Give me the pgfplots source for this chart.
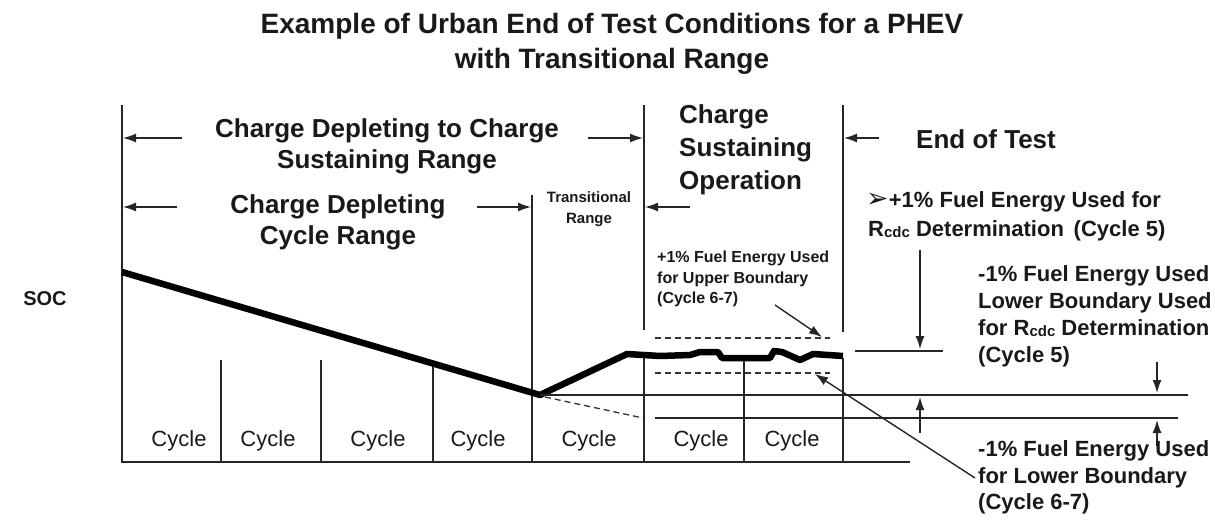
\documentclass[border=0pt]{standalone}
\usepackage{fontspec}
\setmainfont{Liberation Sans}
\newfontfamily\sym{DejaVu Sans}
\usepackage{pgfplots}
\pgfplotsset{compat=1.18}
\usetikzlibrary{arrows.meta}
\newcommand{\Rcdc}{R\raisebox{-1.5pt}{\fontsize{15}{15}\selectfont cdc}}
\tikzset{
  ln/.style={black!85, line width=1.4pt},
  arr/.style={ln, -{Latex[length=13pt,width=9pt]}},
  dsh/.style={black!80, line width=1.3pt, dash pattern=on 6pt off 4pt},
  t/.style={inner sep=0pt, text=black!90},
}
\begin{document}
\begin{tikzpicture}
\begin{axis}[width=1215pt,height=524pt,scale only axis,
  xmin=0,xmax=1215,ymin=0,ymax=524,y dir=reverse,
  hide axis,clip=false]
\addplot[draw=none] coordinates {(0,0) (1215,524)};
% frame
\addplot[ln] coordinates {(122,105) (122,462) (910,462)};
\addplot[ln] coordinates {(532,195) (532,462)};
\addplot[ln] coordinates {(644,105) (644,330)};
\addplot[ln] coordinates {(644,353) (644,462)};
\addplot[ln] coordinates {(843,105) (843,332)};
\addplot[ln] coordinates {(843,358) (843,462)};
\addplot[ln] coordinates {(221,360) (221,462)};
\addplot[ln] coordinates {(321,360) (321,462)};
\addplot[ln] coordinates {(433,366) (433,462)};
\addplot[ln] coordinates {(744,359) (744,462)};
% header arrows
\addplot[arr] coordinates {(182,138) (123,138)};
\addplot[arr] coordinates {(588,138) (643,138)};
\addplot[arr] coordinates {(177,207) (123,207)};
\addplot[arr] coordinates {(477,207) (531,207)};
\addplot[arr] coordinates {(690,207) (645,207)};
\addplot[arr] coordinates {(879,138) (844,138)};
% SOC trace
\addplot[black, line width=6.5pt, line join=round] coordinates {
(122,272) (540,395) (627,354) (660,356) (690,355) (700,352) (718,352)
(722,358) (770,358) (774,351) (782,352) (800,360) (813,354) (843,356)};
% dashed
\addplot[dsh] coordinates {(545,397) (643,418)};
\addplot[dsh] coordinates {(655,338) (830,338)};
\addplot[dsh] coordinates {(655,373) (830,373)};
% boundary lines
\addplot[ln] coordinates {(540,395) (1188,395)};
\addplot[ln] coordinates {(655,418) (1178,418)};
\addplot[ln] coordinates {(855,351) (943,351)};
\addplot[arr] coordinates {(920,250) (920,349)};
\addplot[arr] coordinates {(920,433) (920,397)};
\addplot[arr] coordinates {(1157,362) (1157,393)};
\addplot[arr] coordinates {(1157,446) (1157,420)};
\addplot[arr] coordinates {(775,305) (822,337)};
\addplot[arr] coordinates {(975,478) (815,374)};
% title
\node[t,anchor=base,font=\fontsize{28}{28}\bfseries] at (axis cs:612,34) {Example of Urban End of Test Conditions for a PHEV};
\node[t,anchor=base,font=\fontsize{28}{28}\bfseries] at (axis cs:612,69) {with Transitional Range};
% headings
\node[t,anchor=base,font=\fontsize{26}{26}\bfseries] at (axis cs:387,138) {Charge Depleting to Charge};
\node[t,anchor=base,font=\fontsize{26}{26}\bfseries] at (axis cs:387,168) {Sustaining Range};
\node[t,anchor=base,font=\fontsize{26}{26}\bfseries] at (axis cs:338,213) {Charge Depleting};
\node[t,anchor=base,font=\fontsize{26}{26}\bfseries] at (axis cs:338,244) {Cycle Range};
\node[t,anchor=base,font=\fontsize{15}{15}\bfseries] at (axis cs:589,202) {Transitional};
\node[t,anchor=base,font=\fontsize{15}{15}\bfseries] at (axis cs:589,223) {Range};
\node[t,anchor=base west,font=\fontsize{26}{26}\bfseries] at (axis cs:679,124) {Charge};
\node[t,anchor=base west,font=\fontsize{26}{26}\bfseries] at (axis cs:679,157) {Sustaining};
\node[t,anchor=base west,font=\fontsize{26}{26}\bfseries] at (axis cs:679,189) {Operation};
\node[t,anchor=base west,font=\fontsize{26}{26}\bfseries] at (axis cs:916,149) {End of Test};
\node[t,anchor=base,font=\fontsize{20}{20}\bfseries] at (axis cs:45,305) {SOC};
% right annotations
\node[t,anchor=base west,font=\fontsize{22}{22}\bfseries] at (axis cs:866,207) {{\sym\fontsize{27}{27}\selectfont ➢}+1\% Fuel Energy Used for};
\node[t,anchor=base west,font=\fontsize{22}{22}\bfseries] at (axis cs:868,236) {\Rcdc{} Determination\, (Cycle 5)};
\node[t,anchor=base west,font=\fontsize{22}{22}\bfseries] at (axis cs:978,281) {-1\% Fuel Energy Used};
\node[t,anchor=base west,font=\fontsize{22}{22}\bfseries] at (axis cs:978,308) {Lower Boundary Used};
\node[t,anchor=base west,font=\fontsize{22}{22}\bfseries] at (axis cs:978,335) {for \Rcdc{} Determination};
\node[t,anchor=base west,font=\fontsize{22}{22}\bfseries] at (axis cs:978,362) {(Cycle 5)};
\node[t,anchor=base west,font=\fontsize{22}{22}\bfseries] at (axis cs:978,456) {-1\% Fuel Energy Used};
\node[t,anchor=base west,font=\fontsize{22}{22}\bfseries] at (axis cs:978,483) {for Lower Boundary};
\node[t,anchor=base west,font=\fontsize{22}{22}\bfseries] at (axis cs:978,509) {(Cycle 6-7)};
\node[t,anchor=base west,font=\fontsize{16}{16}\bfseries] at (axis cs:657,262) {+1\% Fuel Energy Used};
\node[t,anchor=base west,font=\fontsize{16}{16}\bfseries] at (axis cs:657,283) {for Upper Boundary};
\node[t,anchor=base west,font=\fontsize{16}{16}\bfseries] at (axis cs:657,303) {(Cycle 6-7)};
% cycle labels
\foreach \cx in {179,268,378,478,589,701,792}{
  \edef\tmp{\noexpand\node[t,anchor=base,font=\noexpand\fontsize{22}{22}\noexpand\selectfont] at (axis cs:\cx,446) {Cycle};}\tmp
}
\end{axis}
\end{tikzpicture}
\end{document}
